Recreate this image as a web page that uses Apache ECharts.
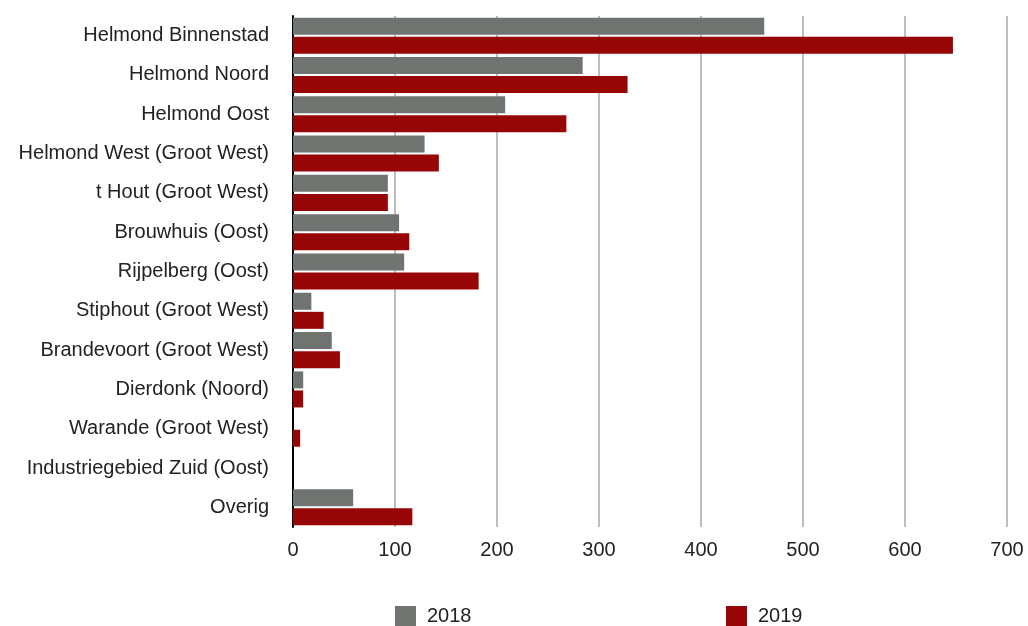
<!DOCTYPE html>
<html>
<head>
<meta charset="utf-8">
<script src="https://cdn.jsdelivr.net/npm/echarts@6/dist/echarts.min.js"></script>
<style>html,body{margin:0;padding:0;background:#fff}#c{width:1028px;height:626px}</style>
</head>
<body>
<div id="c"></div>
<script>
var categories = ["Helmond Binnenstad","Helmond Noord","Helmond Oost","Helmond West (Groot West)","t Hout (Groot West)","Brouwhuis (Oost)","Rijpelberg (Oost)","Stiphout (Groot West)","Brandevoort (Groot West)","Dierdonk (Noord)","Warande (Groot West)","Industriegebied Zuid (Oost)","Overig"];
var values2018 = [462, 284, 208, 129, 93, 104, 109, 18, 38, 10, 0, 0, 59];
var values2019 = [647, 328, 268, 143, 93, 114, 182, 30, 46, 10, 7, 0, 117];
var xTicks = [0, 100, 200, 300, 400, 500, 600, 700];

var chart = echarts.init(document.getElementById('c'));
var font = 'Liberation Sans, Arial, Helvetica, sans-serif';
var legendCommon = {
  top: 606, padding: 0, itemWidth: 21, itemHeight: 20, icon: 'rect',
  textStyle: {fontSize: 20, color: '#222', fontFamily: font, padding: [0, 0, 0, 6]}
};
chart.setOption({
  animation: false,
  textStyle: {fontFamily: font},
  grid: {left: 293, right: 21, top: 16, bottom: 99, containLabel: false},
  legend: [
    Object.assign({left: 395, data: ['2018']}, legendCommon),
    Object.assign({left: 726, data: ['2019']}, legendCommon)
  ],
  xAxis: {
    type: 'value', min: xTicks[0], max: xTicks[xTicks.length - 1], interval: 100,
    axisLine: {show: false}, axisTick: {show: false},
    axisLabel: {fontSize: 20, color: '#222', margin: 13, fontFamily: font},
    splitLine: {show: true, lineStyle: {color: '#bdbdbd', width: 2}}
  },
  yAxis: {
    type: 'category', data: categories, inverse: true,
    axisLine: {show: true, lineStyle: {color: '#000', width: 2}},
    axisTick: {show: false},
    axisLabel: {fontSize: 20, color: '#222', margin: 24, fontFamily: font}
  },
  series: [
    {name: '2018', type: 'bar', data: values2018, itemStyle: {color: '#6f7471'}, barWidth: 17, barGap: '12%'},
    {name: '2019', type: 'bar', data: values2019, itemStyle: {color: '#970606'}, barWidth: 17, barGap: '12%'}
  ]
});
</script>
</body>
</html>
